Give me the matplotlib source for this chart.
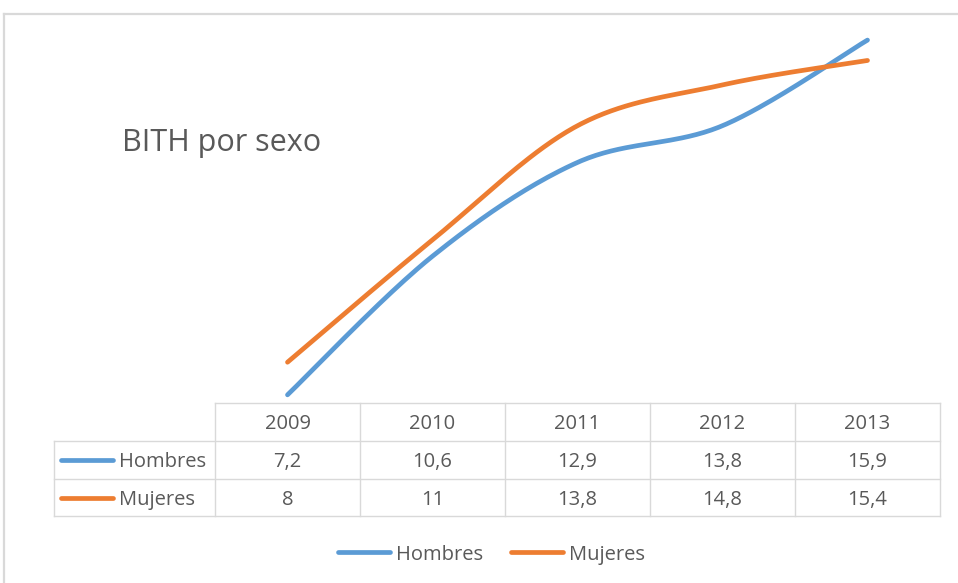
import numpy as np
import matplotlib
matplotlib.use('Agg')
import matplotlib.pyplot as plt
from matplotlib.lines import Line2D

# ---- data ----
years = ['2009', '2010', '2011', '2012', '2013']
hombres = [7.2, 10.6, 12.9, 13.8, 15.9]
mujeres = [8, 11, 13.8, 14.8, 15.4]
series_names = ['Hombres', 'Mujeres']
title = 'BITH por sexo'

BLUE = '#5B9BD5'
ORANGE = '#ED7D31'
TXT = '#595959'
GRID = '#D9D9D9'
FONT = 'Open Sans'
LW = 3.4

W, H = 958, 583
fig = plt.figure(figsize=(W / 100, H / 100), dpi=100)


def fx(px):
    return px / W


def fy(py):
    return 1 - py / H


def smooth(xs, ys, n=40):
    P = np.column_stack([xs, ys]).astype(float)
    m = len(P)
    out = []
    t = np.linspace(0, 1, n)[:, None]
    for i in range(m - 1):
        p0 = P[i - 1] if i > 0 else P[i]
        p3 = P[i + 2] if i + 2 < m else P[i + 1]
        c1 = P[i] + (P[i + 1] - p0) / 6
        c2 = P[i + 1] - (p3 - P[i]) / 6
        seg = ((1 - t) ** 3) * P[i] + 3 * ((1 - t) ** 2) * t * c1 + 3 * (1 - t) * t ** 2 * c2 + t ** 3 * P[i + 1]
        out.append(seg if i == 0 else seg[1:])
    out = np.vstack(out)
    return out[:, 0], out[:, 1]


# chart border (top and left visible)
fig.add_artist(Line2D([fx(4), fx(958)], [fy(14), fy(14)], transform=fig.transFigure, color=GRID, lw=1.6))
fig.add_artist(Line2D([fx(4), fx(4)], [fy(14), fy(583)], transform=fig.transFigure, color=GRID, lw=1.6))

ax = fig.add_axes([fx(215), fy(403), (940 - 215) / W, (403 - 36) / H])
ax.set_xlim(-0.5, len(years) - 0.5)
ax.set_ylim(7, 16)
ax.axis('off')

x = np.arange(len(years))
for vals, col, name in [(hombres, BLUE, series_names[0]), (mujeres, ORANGE, series_names[1])]:
    sx, sy = smooth(x, vals)
    ax.plot(sx, sy, color=col, lw=LW, solid_capstyle='round', label=name, clip_on=False)

fig.text(fx(122), fy(151), title, fontsize=22, color=TXT, family=FONT, va='baseline', ha='left')

# ---- data table ----
fig.canvas.draw()
to_fig = ax.transData + fig.transFigure.inverted()
bounds = [to_fig.transform((b, 7))[0] for b in np.arange(-0.5, len(years), 1.0)]
centers = [to_fig.transform((c, 7))[0] for c in x]
left_lbl = fx(54)
rows_y = [fy(403), fy(441), fy(479), fy(516)]
lw_t = 1.0
# horizontal lines
fig.add_artist(Line2D([bounds[0], bounds[-1]], [rows_y[0]] * 2, transform=fig.transFigure, color=GRID, lw=lw_t))
for yy in rows_y[1:]:
    fig.add_artist(Line2D([left_lbl, bounds[-1]], [yy] * 2, transform=fig.transFigure, color=GRID, lw=lw_t))
# vertical lines
fig.add_artist(Line2D([left_lbl] * 2, [rows_y[1], rows_y[3]], transform=fig.transFigure, color=GRID, lw=lw_t))
for b in bounds:
    fig.add_artist(Line2D([b] * 2, [rows_y[0], rows_y[3]], transform=fig.transFigure, color=GRID, lw=lw_t))

fs = 14.5
baselines = [fy(429), fy(467), fy(505)]
for c, yr in zip(centers, years):
    fig.text(c, baselines[0], yr, ha='center', va='baseline', fontsize=fs, color=TXT, family=FONT)


def fmt(v):
    return f'{v:g}'.replace('.', ',')


for r, (vals, col, name) in enumerate([(hombres, BLUE, series_names[0]), (mujeres, ORANGE, series_names[1])]):
    yc = (rows_y[r + 1] + rows_y[r + 2]) / 2
    bl = baselines[r + 1]
    fig.add_artist(Line2D([fx(61), fx(113)], [yc, yc], transform=fig.transFigure, color=col, lw=LW, solid_capstyle='round'))
    fig.text(fx(119), bl, name, ha='left', va='baseline', fontsize=fs, color=TXT, family=FONT)
    for c, v in zip(centers, vals):
        fig.text(c, bl, fmt(v), ha='center', va='baseline', fontsize=fs, color=TXT, family=FONT)

# ---- legend ----
ly = fy(552)
for (x0, x1, tx), col, name in [((338, 390, 396), BLUE, series_names[0]), ((511, 563, 569), ORANGE, series_names[1])]:
    fig.add_artist(Line2D([fx(x0), fx(x1)], [ly, ly], transform=fig.transFigure, color=col, lw=LW, solid_capstyle='round'))
    fig.text(fx(tx), fy(560), name, ha='left', va='baseline', fontsize=fs, color=TXT, family=FONT)

fig.savefig('out.png', dpi=100, facecolor='white')
